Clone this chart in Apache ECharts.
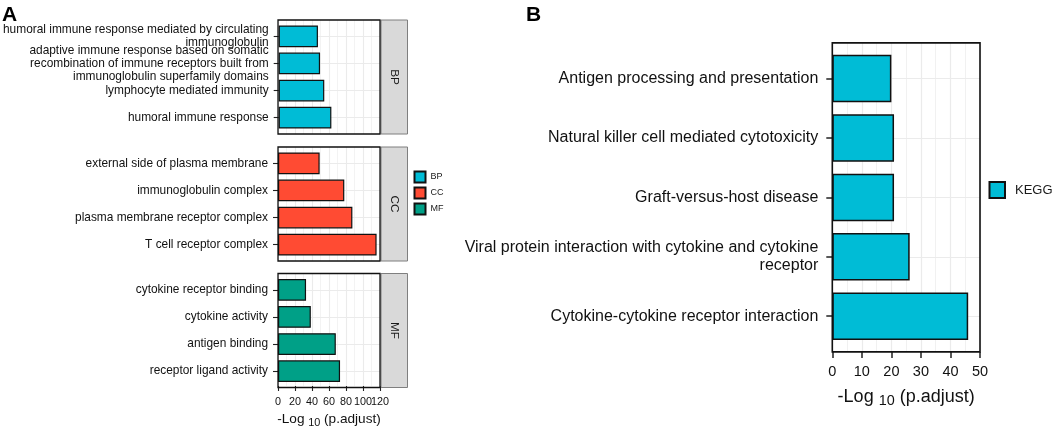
<!DOCTYPE html>
<html>
<head>
<meta charset="utf-8">
<script src="https://cdn.jsdelivr.net/npm/echarts@6/dist/echarts.min.js"></script>
<style>
html,body{margin:0;padding:0;background:#fff;}
#c{width:1052px;height:429px;}
</style>
</head>
<body>
<div id="c"></div>
<script>
// ---------- data ----------
const bpTerms = [
  'humoral immune response mediated by circulating immunoglobulin',
  'adaptive immune response based on somatic recombination of immune receptors built from immunoglobulin superfamily domains',
  'lymphocyte mediated immunity',
  'humoral immune response'
];
const bpValues = [46.5, 49, 54, 62.4];

const ccTerms = [
  'external side of plasma membrane',
  'immunoglobulin complex',
  'plasma membrane receptor complex',
  'T cell receptor complex'
];
const ccValues = [49, 78, 87.5, 116];

const mfTerms = [
  'cytokine receptor binding',
  'cytokine activity',
  'antigen binding',
  'receptor ligand activity'
];
const mfValues = [33, 38.6, 68, 73];

const keggTerms = [
  'Antigen processing and presentation',
  'Natural killer cell mediated cytotoxicity',
  'Graft-versus-host disease',
  'Viral protein interaction with cytokine and cytokine receptor',
  'Cytokine-cytokine receptor interaction'
];
const keggValues = [20.0, 20.9, 20.9, 26.2, 46.0];

const goFacets = ['BP', 'CC', 'MF'];
const goTicksMax = 120, goTickStep = 20;
const keggTicksMax = 50, keggTickStep = 10;
const axisTitle = ['-Log ', '10', ' (p.adjust)'];

// ---------- styling ----------
const FONT = '"Liberation Sans", Arial, Helvetica, sans-serif';
const COLORS = { BP: '#00BCD6', CC: '#FF4B33', MF: '#00A087', KEGG: '#00BCD6' };
const GRID_C = '#ebebeb';

function wrap(s, w) {
  const words = s.split(' ');
  const lines = [];
  let cur = '';
  for (const wd of words) {
    if (!cur) cur = wd;
    else if ((cur + ' ' + wd).length <= w) cur += ' ' + wd;
    else { lines.push(cur); cur = wd; }
  }
  if (cur) lines.push(cur);
  return lines.join('\n');
}

const chart = echarts.init(document.getElementById('c'), null, { renderer: 'canvas' });

const grids = [], xAxes = [], yAxes = [], series = [], graphics = [];

function addPanel(opt) {
  const n = opt.terms.length;
  const band = opt.height / (n + 0.2);
  const fi = grids.length;
  grids.push({
    left: opt.left, top: opt.top, width: opt.width, height: opt.height,
    show: true, backgroundColor: '#fff', borderWidth: 0,
    containLabel: false
  });
  const step = opt.step;
  const split = !!opt.splitLabels;
  const labelBase = { fontSize: opt.xfs, color: '#111', fontFamily: FONT, margin: opt.xLabelMargin, hideOverlap: false };
  xAxes.push({
    type: 'value', gridIndex: fi, min: 0, max: opt.max, interval: step, position: 'bottom',
    axisLine: { show: false },
    axisTick: { show: opt.bottomAxis, length: opt.tickLen, lineStyle: { color: '#222', width: opt.tickW } },
    axisLabel: Object.assign({}, labelBase, {
      show: opt.bottomAxis, showMinLabel: true, showMaxLabel: true,
      formatter: v => (!split || Math.round(v / step) % 2 === 0) ? String(v) : ''
    }),
    splitLine: { show: true, lineStyle: { color: GRID_C, width: opt.majW } },
    minorTick: { show: false, splitNumber: 2 },
    minorSplitLine: { show: true, lineStyle: { color: GRID_C, width: opt.minW } },
    name: opt.bottomAxis ? `{m|${axisTitle[0]}}{s|${axisTitle[1]}}{m|${axisTitle[2]}}` : '',
    nameLocation: 'middle', nameGap: opt.nameGap,
    nameTextStyle: {
      rich: {
        m: { fontSize: opt.nfs, color: '#111', fontFamily: FONT },
        s: { fontSize: opt.nfs * 0.8, color: '#111', fontFamily: FONT, padding: [opt.subDrop, 0, 0, 0] }
      }
    }
  });
  if (opt.bottomAxis && split) {
    xAxes.push({
      type: 'value', gridIndex: fi, min: 0, max: opt.max, interval: step, position: 'bottom', offset: 0,
      axisLine: { show: false }, axisTick: { show: false },
      splitLine: { show: false }, minorSplitLine: { show: false },
      axisLabel: Object.assign({}, labelBase, {
        show: true, showMinLabel: false, showMaxLabel: false,
        formatter: v => (Math.round(v / step) % 2 === 1) ? String(v) : ''
      })
    });
  }
  yAxes.push({ type: 'value', gridIndex: fi, show: false, min: 0, max: 1 });

  const bi = grids.length;
  grids.push({
    left: opt.left, top: opt.top + 0.1 * band, width: opt.width, height: opt.height - 0.2 * band,
    containLabel: false
  });
  const bx = xAxes.length;
  xAxes.push({ type: 'value', gridIndex: bi, min: 0, max: opt.max, show: false });
  const by = yAxes.length;
  yAxes.push({
    type: 'category', gridIndex: bi, inverse: true,
    data: opt.terms.map(t => wrap(t, 52)),
    axisLine: { show: false },
    axisTick: { show: true, alignWithLabel: true, length: opt.tickLen, lineStyle: { color: '#222', width: opt.tickW } },
    axisLabel: { fontSize: opt.yfs, lineHeight: opt.ylh, color: '#111', fontFamily: FONT, margin: opt.yLabelMargin, interval: 0 },
    splitLine: { show: true, alignWithLabel: true, lineStyle: { color: GRID_C, width: opt.majW } }
  });
  series.push({
    type: 'bar', name: opt.name, xAxisIndex: bx, yAxisIndex: by,
    data: opt.values, barWidth: '80%',
    itemStyle: { color: opt.color, borderColor: '#111', borderWidth: opt.barBW },
    emphasis: { disabled: true }, animation: false
  });
  graphics.push({
    type: 'rect', shape: { x: opt.left, y: opt.top, width: opt.width, height: opt.height },
    style: { fill: null, stroke: '#111', lineWidth: opt.bw }, z: 20, silent: true
  });
}

// Panel A facets
const goTops = [20, 147, 273.5];
const goH = 114;
const goData = [[bpTerms, bpValues], [ccTerms, ccValues], [mfTerms, mfValues]];
goFacets.forEach((f, i) => {
  addPanel({
    left: 278, width: 102, top: goTops[i], height: goH,
    terms: goData[i][0], values: goData[i][1], max: goTicksMax, step: goTickStep,
    color: COLORS[f], name: f, bottomAxis: i === 2, splitLabels: true, bw: 1.3,
    tickLen: 5, tickW: 1.1, xfs: 10.8, xLabelMargin: 10.5, majW: 1.1, minW: 0.6,
    nameGap: 25, nfs: 13.6, subDrop: 6, yfs: 11.9, ylh: 13, yLabelMargin: 10, barBW: 1.2
  });
  graphics.push({
    type: 'rect', shape: { x: 381, y: goTops[i], width: 26.5, height: goH },
    style: { fill: '#d9d9d9', stroke: '#7f7f7f', lineWidth: 1 }, z: 10
  });
  graphics.push({
    type: 'text', x: 394.5, y: goTops[i] + goH / 2, rotation: -Math.PI / 2,
    style: { text: f, fill: '#1a1a1a', font: '11.8px ' + FONT, align: 'center', verticalAlign: 'middle' }, z: 11
  });
});

// Panel B
addPanel({
  left: 832.3, width: 147.7, top: 42.9, height: 309,
  terms: keggTerms, values: keggValues, max: keggTicksMax, step: keggTickStep,
  color: COLORS.KEGG, name: 'KEGG', bottomAxis: true, splitLabels: false, bw: 1.6,
  tickLen: 6, tickW: 1.5, xfs: 14.5, xLabelMargin: 13, majW: 1.2, minW: 0.7,
  nameGap: 34, nfs: 18, subDrop: 8, yfs: 16, ylh: 18, yLabelMargin: 14, barBW: 1.5
});

chart.setOption({
  animation: false,
  backgroundColor: '#fff',
  title: [
    { text: 'A', left: 2, top: 4.5, padding: 0, textStyle: { fontSize: 21, fontWeight: 'bold', color: '#000', fontFamily: FONT } },
    { text: 'B', left: 526, top: 4.5, padding: 0, textStyle: { fontSize: 21, fontWeight: 'bold', color: '#000', fontFamily: FONT } }
  ],
  legend: [
    {
      data: goFacets, orient: 'vertical', left: 413.5, top: 170.5, padding: 0,
      itemWidth: 11, itemHeight: 11, itemGap: 3, icon: 'rect',
      textStyle: { fontSize: 9, color: '#1a1a1a', fontFamily: FONT }, selectedMode: false
    },
    {
      data: ['KEGG'], orient: 'vertical', left: 988.5, top: 181, padding: 0,
      itemWidth: 15.5, itemHeight: 16, icon: 'rect',
      textStyle: { fontSize: 13, color: '#1a1a1a', fontFamily: FONT, padding: [0, 0, 0, 5] }, selectedMode: false
    }
  ],
  grid: grids, xAxis: xAxes, yAxis: yAxes, series: series,
  graphic: graphics
});
</script>
</body>
</html>
